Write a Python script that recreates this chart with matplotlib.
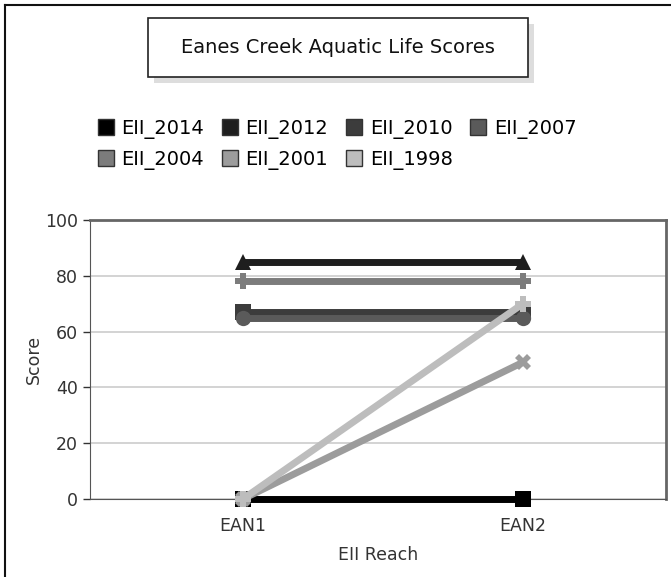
import matplotlib
matplotlib.use("Agg")
import matplotlib.pyplot as plt
from matplotlib.lines import Line2D
from matplotlib.patches import Rectangle

# Datos
reaches = ["EAN1", "EAN2"]
series = ["EII_2014", "EII_2012", "EII_2010", "EII_2007", "EII_2004", "EII_2001", "EII_1998"]
scores = {
    "EII_2014": [0, 0],
    "EII_2012": [85, 85],
    "EII_2010": [67, 67],
    "EII_2007": [65, 65],
    "EII_2004": [78, 78],
    "EII_2001": [0, 49],
    "EII_1998": [0, 70],
}
y_ticks = [0, 20, 40, 60, 80, 100]

# Estilo de cada serie
cores = {
    "EII_2014": "#000000",
    "EII_2012": "#1e1e1e",
    "EII_2010": "#3c3c3c",
    "EII_2007": "#5a5a5a",
    "EII_2004": "#7c7c7c",
    "EII_2001": "#9c9c9c",
    "EII_1998": "#bdbdbd",
}
marcadores = {
    "EII_2014": "s",
    "EII_2012": "^",
    "EII_2010": "s",
    "EII_2007": "o",
    "EII_2004": "P",
    "EII_2001": "X",
    "EII_1998": "P",
}

W, H = 671, 577
fig = plt.figure(figsize=(W / 100, H / 100), dpi=100)

# Moldura externa (esquerda e topo)
fig.add_artist(Line2D([5 / W, 5 / W], [0, 1 - 5 / H], color="#111111", lw=1.5))
fig.add_artist(Line2D([5 / W, 1], [1 - 5 / H, 1 - 5 / H], color="#111111", lw=1.5))

# Caixa do titulo com sombra
bx0, by0, bx1, by1 = 148, 18, 528, 77
fig.add_artist(Rectangle(((bx0 + 6) / W, 1 - (by1 + 6) / H), (bx1 - bx0) / W, (by1 - by0) / H,
                         facecolor="#dddddd", edgecolor="none"))
fig.add_artist(Rectangle((bx0 / W, 1 - by1 / H), (bx1 - bx0) / W, (by1 - by0) / H,
                         facecolor="white", edgecolor="#222222", lw=1.2))
fig.text((bx0 + bx1) / 2 / W, 1 - (by0 + by1) / 2 / H, "Eanes Creek Aquatic Life Scores",
         ha="center", va="center", fontsize=14, color="#111111")

ax = fig.add_axes([90 / W, 1 - 499 / H, (666 - 90) / W, (499 - 220) / H])

x = list(range(len(reaches)))
for i, s in enumerate(series):
    ax.plot(x, scores[s], color=cores[s], lw=5, marker=marcadores[s], markersize=11,
            markeredgewidth=0, solid_capstyle="butt", zorder=3 + i, clip_on=False)

ax.set_xlim(-0.546, 1.511)
ax.set_ylim(0, 100)
ax.set_xticks(x)
ax.set_xticklabels(reaches)
ax.set_yticks(y_ticks)
ax.yaxis.grid(True, color="#cccccc", lw=1.2)
ax.set_axisbelow(True)
ax.tick_params(axis="both", labelsize=12.5, colors="#333333", labelcolor="#333333", length=5, width=1)
ax.tick_params(axis="x", pad=8)
ax.set_xlabel("EII Reach", fontsize=12.5, color="#333333", labelpad=8)
ax.set_ylabel("Score", fontsize=12.5, color="#333333", labelpad=2)
for lado in ["left", "bottom"]:
    ax.spines[lado].set_color("#555555")
for lado in ["right", "top"]:
    ax.spines[lado].set_color("#666666")
    ax.spines[lado].set_linewidth(2)

# Legenda em duas linhas (ordem por linha)
handles = {s: Line2D([], [], linestyle="none", marker="s", markersize=11,
                     markerfacecolor=cores[s], markeredgecolor="#333333", markeredgewidth=1)
           for s in series}
ordem = ["EII_2014", "EII_2004", "EII_2012", "EII_2001", "EII_2010", "EII_1998", "EII_2007"]
fig.legend([handles[s] for s in ordem], ordem, ncol=4, loc="upper left",
           bbox_to_anchor=(99 / W, 1 - 119 / H), frameon=False, fontsize=14,
           handlelength=0.7, handletextpad=0.45, columnspacing=0.98, labelspacing=0.55,
           borderaxespad=0, borderpad=0)

fig.savefig("out.png", dpi=100)
